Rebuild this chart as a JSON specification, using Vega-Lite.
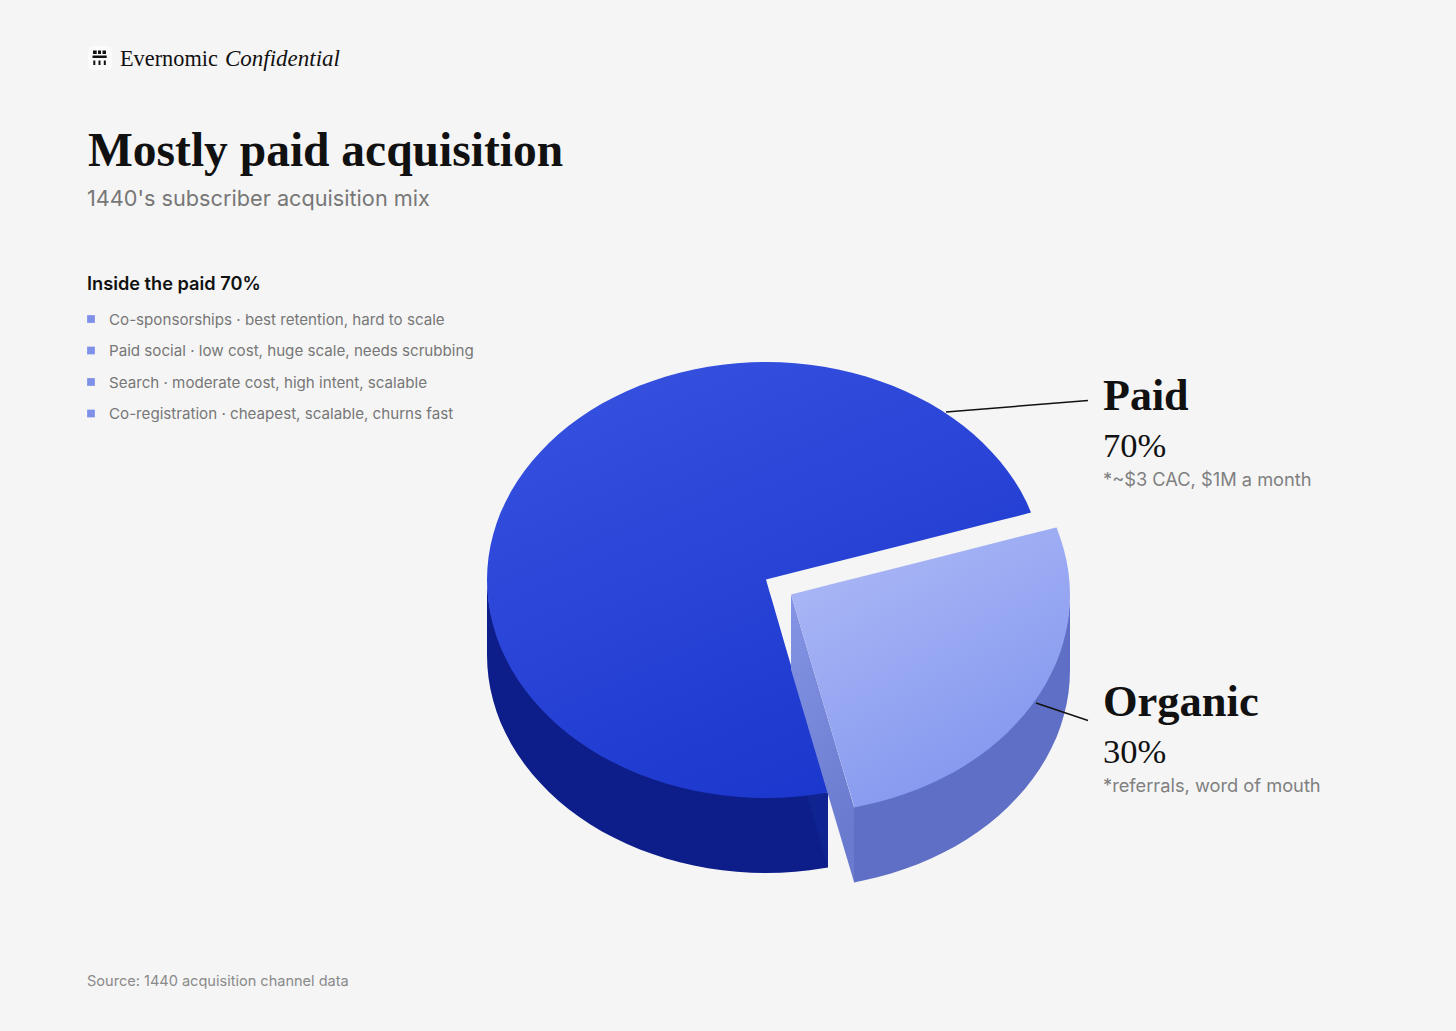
{"$schema":"https://vega.github.io/schema/vega-lite/v6.json","width":1456,"height":1031,"autosize":{"type":"fit","contains":"padding"},"padding":0,"background":"#f5f5f5","config":{"view":{"stroke":null}},
"datasets":{
"paidSide":[{"x":487,"y":577,"y2":655},{"x":487.4,"y":588.4,"y2":666.4},{"x":488.5,"y":599.8,"y2":677.8},{"x":490.4,"y":611.1,"y2":689.1},{"x":493.1,"y":622.3,"y2":700.3},{"x":496.5,"y":633.4,"y2":711.4},{"x":500.6,"y":644.4,"y2":722.4},{"x":505.5,"y":655.1,"y2":733.1},{"x":511.1,"y":665.7,"y2":743.7},{"x":517.4,"y":676,"y2":754},{"x":524.4,"y":686,"y2":764},{"x":532,"y":695.7,"y2":773.7},{"x":540.3,"y":705.1,"y2":783.1},{"x":549.2,"y":714.2,"y2":792.2},{"x":558.7,"y":722.9,"y2":800.9},{"x":568.7,"y":731.2,"y2":809.2},{"x":579.3,"y":739,"y2":817},{"x":590.4,"y":746.4,"y2":824.4},{"x":602,"y":753.4,"y2":831.4},{"x":614.1,"y":759.8,"y2":837.8},{"x":626.5,"y":765.8,"y2":843.8},{"x":639.3,"y":771.2,"y2":849.2},{"x":652.5,"y":776.1,"y2":854.1},{"x":666,"y":780.5,"y2":858.5},{"x":679.8,"y":784.3,"y2":862.3},{"x":693.8,"y":787.6,"y2":865.6},{"x":708,"y":790.2,"y2":868.2},{"x":722.4,"y":792.3,"y2":870.3},{"x":736.8,"y":793.8,"y2":871.8},{"x":751.4,"y":794.7,"y2":872.7},{"x":766,"y":795,"y2":873},{"x":780.6,"y":794.7,"y2":872.7},{"x":795.2,"y":793.8,"y2":871.8},{"x":809.6,"y":793.5,"y2":870.3},{"x":828,"y":792.6,"y2":867.6}],
"paidCut":[{"x":807,"y":795.5,"y2":795.5},{"x":828,"y":792.6,"y2":867.6}],
"paidTop":[{"y":362,"x":766,"x2":766},{"y":362.3,"x":751.4,"x2":780.6},{"y":363.2,"x":736.8,"x2":795.2},{"y":364.7,"x":722.4,"x2":809.6},{"y":366.8,"x":708,"x2":824},{"y":369.4,"x":693.8,"x2":838.2},{"y":372.7,"x":679.8,"x2":852.2},{"y":376.5,"x":666,"x2":866},{"y":380.9,"x":652.5,"x2":879.5},{"y":385.8,"x":639.3,"x2":892.7},{"y":391.2,"x":626.5,"x2":905.5},{"y":397.2,"x":614.1,"x2":917.9},{"y":403.6,"x":602,"x2":930},{"y":410.6,"x":590.4,"x2":941.6},{"y":418,"x":579.3,"x2":952.7},{"y":425.8,"x":568.7,"x2":963.3},{"y":434.1,"x":558.7,"x2":973.3},{"y":442.8,"x":549.2,"x2":982.8},{"y":451.9,"x":540.3,"x2":991.7},{"y":461.3,"x":532,"x2":1000},{"y":471,"x":524.4,"x2":1007.6},{"y":481,"x":517.4,"x2":1014.6},{"y":491.3,"x":511.1,"x2":1020.9},{"y":501.9,"x":505.5,"x2":1026.5},{"y":512.6,"x":500.6,"x2":1031},{"y":523.6,"x":496.5,"x2":987.5},{"y":534.7,"x":493.1,"x2":943.6},{"y":545.9,"x":490.4,"x2":899.3},{"y":557.2,"x":488.5,"x2":854.6},{"y":568.6,"x":487.4,"x2":809.5},{"y":579.6,"x":487,"x2":766},{"y":591.4,"x":487.4,"x2":769.4},{"y":602.8,"x":488.5,"x2":772.8},{"y":614.1,"x":490.4,"x2":776},{"y":625.3,"x":493.1,"x2":779.3},{"y":636.4,"x":496.5,"x2":782.5},{"y":647.4,"x":500.6,"x2":785.7},{"y":658.1,"x":505.5,"x2":788.8},{"y":668.7,"x":511.1,"x2":791.9},{"y":679,"x":517.4,"x2":794.9},{"y":689,"x":524.4,"x2":797.8},{"y":698.7,"x":532,"x2":800.7},{"y":708.1,"x":540.3,"x2":803.4},{"y":717.2,"x":549.2,"x2":806},{"y":725.9,"x":558.7,"x2":808.6},{"y":734.2,"x":568.7,"x2":811},{"y":742,"x":579.3,"x2":813.3},{"y":749.4,"x":590.4,"x2":815.4},{"y":756.4,"x":602,"x2":817.4},{"y":762.8,"x":614.1,"x2":819.3},{"y":768.8,"x":626.5,"x2":821.1},{"y":774.2,"x":639.3,"x2":822.6},{"y":779.1,"x":652.5,"x2":824.1},{"y":783.5,"x":666,"x2":825.3},{"y":787.3,"x":679.8,"x2":826.5},{"y":790.6,"x":693.8,"x2":827.4},{"y":792.6,"x":704,"x2":828},{"y":795.3,"x":722.4,"x2":809.6},{"y":796.8,"x":736.8,"x2":795.2},{"y":797.7,"x":751.4,"x2":780.6},{"y":798,"x":766,"x2":766}],
"organicFace":[{"x":791,"y":594.5,"y2":669.5},{"x":854,"y":807,"y2":882}],
"organicSide":[{"x":854,"y":807.4,"y2":882.4},{"x":863.2,"y":802.6,"y2":880.6},{"x":877.2,"y":799.3,"y2":877.3},{"x":891,"y":795.5,"y2":873.5},{"x":904.5,"y":791.1,"y2":869.1},{"x":917.7,"y":786.2,"y2":864.2},{"x":930.5,"y":780.8,"y2":858.8},{"x":942.9,"y":774.8,"y2":852.8},{"x":955,"y":768.4,"y2":846.4},{"x":966.6,"y":761.4,"y2":839.4},{"x":977.7,"y":754,"y2":832},{"x":988.3,"y":746.2,"y2":824.2},{"x":998.3,"y":737.9,"y2":815.9},{"x":1007.8,"y":729.2,"y2":807.2},{"x":1016.7,"y":720.1,"y2":798.1},{"x":1025,"y":710.7,"y2":788.7},{"x":1032.6,"y":701,"y2":779},{"x":1039.6,"y":691,"y2":769},{"x":1045.9,"y":680.7,"y2":758.7},{"x":1051.5,"y":670.1,"y2":748.1},{"x":1056.4,"y":659.4,"y2":737.4},{"x":1060.5,"y":648.4,"y2":726.4},{"x":1063.9,"y":637.3,"y2":715.3},{"x":1066.6,"y":626.1,"y2":704.1},{"x":1068.5,"y":614.8,"y2":692.8},{"x":1069.6,"y":603.4,"y2":681.4},{"x":1070,"y":592,"y2":670}],
"organicTop":[{"y":527.4,"x":1056.2,"x2":1056.6},{"y":538.6,"x":1012.1,"x2":1060.5},{"y":549.7,"x":968.2,"x2":1063.9},{"y":560.9,"x":923.9,"x2":1066.6},{"y":572.2,"x":879.2,"x2":1068.5},{"y":583.6,"x":834.1,"x2":1069.6},{"y":594.5,"x":791,"x2":1070},{"y":606.4,"x":794.5,"x2":1069.6},{"y":617.8,"x":797.9,"x2":1068.5},{"y":629.1,"x":801.3,"x2":1066.6},{"y":640.3,"x":804.6,"x2":1063.9},{"y":651.4,"x":807.9,"x2":1060.5},{"y":662.4,"x":811.2,"x2":1056.4},{"y":673.1,"x":814.4,"x2":1051.5},{"y":683.7,"x":817.5,"x2":1045.9},{"y":694,"x":820.6,"x2":1039.6},{"y":704,"x":823.5,"x2":1032.6},{"y":713.7,"x":826.4,"x2":1025},{"y":723.1,"x":829.2,"x2":1016.7},{"y":732.2,"x":831.9,"x2":1007.8},{"y":740.9,"x":834.5,"x2":998.3},{"y":749.2,"x":837,"x2":988.3},{"y":757,"x":839.3,"x2":977.7},{"y":764.4,"x":841.5,"x2":966.6},{"y":771.4,"x":843.6,"x2":955},{"y":777.8,"x":845.5,"x2":942.9},{"y":783.8,"x":847.3,"x2":930.5},{"y":789.2,"x":848.9,"x2":917.7},{"y":794.1,"x":850.4,"x2":904.5},{"y":798.5,"x":851.7,"x2":891},{"y":802.3,"x":852.8,"x2":877.2},{"y":805.6,"x":853.8,"x2":863.2},{"y":807.4,"x":854,"x2":854}],
"leaderPaid":[{"x":946,"y":412},{"x":1088,"y":400.5}],
"leaderOrganic":[{"x":1036,"y":703},{"x":1088,"y":720.5}],
"logoIcon":[{"x":93,"x2":96.7,"y":50.5,"y2":54},{"x":98,"x2":101,"y":50.5,"y2":54},{"x":102.5,"x2":106,"y":50.5,"y2":54},{"x":92.5,"x2":106.7,"y":55.5,"y2":58},{"x":93.3,"x2":95.3,"y":60.5,"y2":65},{"x":98.5,"x2":100.5,"y":60.5,"y2":65},{"x":103.8,"x2":105.8,"y":60.5,"y2":65}],
"logoTile":[{"x":88,"x2":112,"y":46,"y2":70}],
"bullets":[{"item":"Co-sponsorships · best retention, hard to scale"},{"item":"Paid social · low cost, huge scale, needs scrubbing"},{"item":"Search · moderate cost, high intent, scalable"},{"item":"Co-registration · cheapest, scalable, churns fast"}]
},
"layer":[
{"layer":[
{"data":{"name":"logoTile"},"mark":{"type":"rect","fill":"#fbfbfb","cornerRadius":5},"encoding":{"x":{"field":"x","type":"quantitative","scale":{"domain":[0,1456],"nice":false,"zero":false},"axis":null},"x2":{"field":"x2"},"y":{"field":"y","type":"quantitative","scale":{"domain":[0,1031],"reverse":true,"nice":false,"zero":false},"axis":null},"y2":{"field":"y2"}}},
{"data":{"name":"logoIcon"},"mark":{"type":"rect","fill":"#111111"},"encoding":{"x":{"field":"x","type":"quantitative","axis":null},"x2":{"field":"x2"},"y":{"field":"y","type":"quantitative","axis":null},"y2":{"field":"y2"}}},
{"data":{"name":"paidSide"},"mark":{"type":"area","orient":"vertical","fill":"#0d1e8b"},"encoding":{"x":{"field":"x","type":"quantitative","axis":null},"y":{"field":"y","type":"quantitative","axis":null},"y2":{"field":"y2"}}},
{"data":{"name":"paidCut"},"mark":{"type":"area","orient":"vertical","fill":"#102491"},"encoding":{"x":{"field":"x","type":"quantitative","axis":null},"y":{"field":"y","type":"quantitative","axis":null},"y2":{"field":"y2"}}},
{"data":{"name":"paidTop"},"mark":{"type":"area","orient":"horizontal","fill":{"gradient":"linear","x1":0.15,"y1":0,"x2":0.7,"y2":1,"stops":[{"offset":0,"color":"#3751e0"},{"offset":1,"color":"#1a36cc"}]}},"encoding":{"y":{"field":"y","type":"quantitative","axis":null},"x":{"field":"x","type":"quantitative","axis":null},"x2":{"field":"x2"}}},
{"data":{"name":"organicFace"},"mark":{"type":"area","orient":"vertical","fill":{"gradient":"linear","x1":0,"y1":0,"x2":0.3,"y2":1,"stops":[{"offset":0,"color":"#8594e4"},{"offset":1,"color":"#6a7bcf"}]}},"encoding":{"x":{"field":"x","type":"quantitative","axis":null},"y":{"field":"y","type":"quantitative","axis":null},"y2":{"field":"y2"}}},
{"data":{"name":"organicSide"},"mark":{"type":"area","orient":"vertical","fill":"#5f6fc5"},"encoding":{"x":{"field":"x","type":"quantitative","axis":null},"y":{"field":"y","type":"quantitative","axis":null},"y2":{"field":"y2"}}},
{"data":{"name":"organicTop"},"mark":{"type":"area","orient":"horizontal","fill":{"gradient":"linear","x1":0.15,"y1":0,"x2":0.7,"y2":1,"stops":[{"offset":0,"color":"#adb9f6"},{"offset":1,"color":"#8195ee"}]}},"encoding":{"y":{"field":"y","type":"quantitative","axis":null},"x":{"field":"x","type":"quantitative","axis":null},"x2":{"field":"x2"}}},
{"data":{"name":"leaderPaid"},"mark":{"type":"line","stroke":"#111111","strokeWidth":1.5},"encoding":{"x":{"field":"x","type":"quantitative","axis":null},"y":{"field":"y","type":"quantitative","axis":null}}},
{"data":{"name":"leaderOrganic"},"mark":{"type":"line","stroke":"#111111","strokeWidth":1.5},"encoding":{"x":{"field":"x","type":"quantitative","axis":null},"y":{"field":"y","type":"quantitative","axis":null}}},
{"data":{"values":[{"t":"Evernomic"}]},"mark":{"type":"text","align":"left","baseline":"alphabetic","font":"Liberation Serif","fontSize":22.3,"fill":"#111111"},"encoding":{"x":{"datum":120,"type":"quantitative","axis":null},"y":{"datum":65.5,"type":"quantitative","axis":null},"text":{"field":"t"}}},
{"data":{"values":[{"t":"Confidential"}]},"mark":{"type":"text","align":"left","baseline":"alphabetic","font":"Liberation Serif","fontStyle":"italic","fontSize":23,"fill":"#111111"},"encoding":{"x":{"datum":225,"type":"quantitative","axis":null},"y":{"datum":65.5,"type":"quantitative","axis":null},"text":{"field":"t"}}},
{"data":{"values":[{"t":"Mostly paid acquisition"}]},"mark":{"type":"text","align":"left","baseline":"alphabetic","font":"Liberation Serif","fontWeight":"bold","fontSize":47.5,"fill":"#111111"},"encoding":{"x":{"datum":88,"type":"quantitative","axis":null},"y":{"datum":166,"type":"quantitative","axis":null},"text":{"field":"t"}}},
{"data":{"values":[{"t":"1440's subscriber acquisition mix"}]},"mark":{"type":"text","align":"left","baseline":"alphabetic","font":"Inter","fontSize":21.7,"fill":"#777777"},"encoding":{"x":{"datum":87,"type":"quantitative","axis":null},"y":{"datum":206,"type":"quantitative","axis":null},"text":{"field":"t"}}},
{"data":{"values":[{"t":"Inside the paid 70%"}]},"mark":{"type":"text","align":"left","baseline":"alphabetic","font":"Inter","fontWeight":600,"fontSize":18.2,"fill":"#111111"},"encoding":{"x":{"datum":87,"type":"quantitative","axis":null},"y":{"datum":290,"type":"quantitative","axis":null},"text":{"field":"t"}}},
{"data":{"values":[{"t":"Paid"}]},"mark":{"type":"text","align":"left","baseline":"alphabetic","font":"Liberation Serif","fontWeight":"bold","fontSize":44,"fill":"#111111"},"encoding":{"x":{"datum":1103,"type":"quantitative","axis":null},"y":{"datum":410,"type":"quantitative","axis":null},"text":{"field":"t"}}},
{"data":{"values":[{"t":"70%"}]},"mark":{"type":"text","align":"left","baseline":"alphabetic","font":"Liberation Serif","fontSize":34.5,"fill":"#111111"},"encoding":{"x":{"datum":1103,"type":"quantitative","axis":null},"y":{"datum":457,"type":"quantitative","axis":null},"text":{"field":"t"}}},
{"data":{"values":[{"t":"*~$3 CAC, $1M a month"}]},"mark":{"type":"text","align":"left","baseline":"alphabetic","font":"Inter","fontSize":18.25,"fill":"#808080"},"encoding":{"x":{"datum":1103,"type":"quantitative","axis":null},"y":{"datum":486,"type":"quantitative","axis":null},"text":{"field":"t"}}},
{"data":{"values":[{"t":"Organic"}]},"mark":{"type":"text","align":"left","baseline":"alphabetic","font":"Liberation Serif","fontWeight":"bold","fontSize":44.5,"fill":"#111111"},"encoding":{"x":{"datum":1103,"type":"quantitative","axis":null},"y":{"datum":716,"type":"quantitative","axis":null},"text":{"field":"t"}}},
{"data":{"values":[{"t":"30%"}]},"mark":{"type":"text","align":"left","baseline":"alphabetic","font":"Liberation Serif","fontSize":34.5,"fill":"#111111"},"encoding":{"x":{"datum":1103,"type":"quantitative","axis":null},"y":{"datum":763,"type":"quantitative","axis":null},"text":{"field":"t"}}},
{"data":{"values":[{"t":"*referrals, word of mouth"}]},"mark":{"type":"text","align":"left","baseline":"alphabetic","font":"Inter","fontSize":18.25,"fill":"#808080"},"encoding":{"x":{"datum":1103,"type":"quantitative","axis":null},"y":{"datum":792,"type":"quantitative","axis":null},"text":{"field":"t"}}},
{"data":{"values":[{"t":"Source: 1440 acquisition channel data"}]},"mark":{"type":"text","align":"left","baseline":"alphabetic","font":"Inter","fontSize":14.55,"fill":"#8a8a8a"},"encoding":{"x":{"datum":87,"type":"quantitative","axis":null},"y":{"datum":986,"type":"quantitative","axis":null},"text":{"field":"t"}}}
]},
{"layer":[
{"data":{"name":"bullets"},"mark":{"type":"square","filled":true,"size":60,"fill":"#7f90e8","opacity":1},"encoding":{"x":{"datum":91,"type":"quantitative","axis":null},"y":{"field":"item","type":"nominal","sort":null,"axis":null,"scale":{"type":"point","domain":["Co-sponsorships · best retention, hard to scale","Paid social · low cost, huge scale, needs scrubbing","Search · moderate cost, high intent, scalable","Co-registration · cheapest, scalable, churns fast"],"range":[319,413.5],"padding":0}}}},
{"data":{"name":"bullets"},"mark":{"type":"text","align":"left","baseline":"middle","dy":0.5,"font":"Inter","fontSize":15.15,"fill":"#777777"},"encoding":{"x":{"datum":109,"type":"quantitative","axis":null},"y":{"field":"item","type":"nominal","sort":null,"axis":null},"text":{"field":"item"}}}
]}
],
"resolve":{"scale":{"y":"independent"}}}
